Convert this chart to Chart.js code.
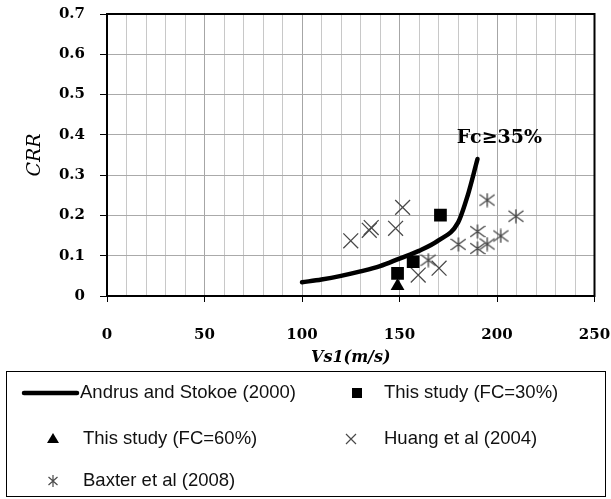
<!DOCTYPE html>
<html><head><meta charset="utf-8">
<script src="https://cdn.jsdelivr.net/npm/chart.js@4/dist/chart.umd.min.js"></script>
<style>html,body{margin:0;padding:0;background:#fff;}#wrap{position:relative;width:611px;height:499px;}</style>
</head><body><div id="wrap"><canvas id="c" width="611" height="499"></canvas></div>
<script>
// ---- data ----
const curveVs1 = [100, 110, 120, 130, 140, 150, 160, 170, 180, 185, 190];
const curveCRR = [0.034, 0.041, 0.050, 0.061, 0.074, 0.093, 0.112, 0.138, 0.182, 0.25, 0.34];
const fc30Vs1 = [149, 157, 171];
const fc30CRR = [0.056, 0.085, 0.201];
const fc60Vs1 = [149];
const fc60CRR = [0.025];
const huangVs1 = [125, 134.5, 135.5, 148, 151.6, 159.6, 170.3];
const huangCRR = [0.137, 0.163, 0.170, 0.168, 0.220, 0.052, 0.069];
const baxterVs1 = [164.8, 180.2, 190, 190, 195, 201.9, 195, 209.7];
const baxterCRR = [0.089, 0.128, 0.160, 0.118, 0.129, 0.149, 0.238, 0.198];
const xTickLabels = {0: '0', 50: '50', 100: '100', 150: '150', 200: '200', 250: '250'};
const yTickLabels = ['0', '0.1', '0.2', '0.3', '0.4', '0.5', '0.6', '0.7'];
const seriesLabels = ['Andrus and Stokoe (2000)', 'This study (FC=30%)', 'This study (FC=60%)', 'Huang et al (2004)', 'Baxter et al (2008)'];
const xTitle = 'Vs1(m/s)';
const yTitle = 'CRR';
const noteText = 'Fc\u226535%';
const noteVs1 = 179.3;
const noteCRR = 0.38;

const pts = (xs, ys) => xs.map((x, i) => ({x: x, y: ys[i]}));
const markGray = '#4a4a4a';

function makeAsterisk(w, h, lw, color) {
  const c = document.createElement('canvas');
  c.width = w; c.height = h;
  const g = c.getContext('2d');
  g.strokeStyle = color; g.lineWidth = lw;
  g.beginPath();
  g.moveTo(0.5, 2); g.lineTo(w - 0.5, h - 2);
  g.moveTo(w - 0.5, 2); g.lineTo(0.5, h - 2);
  g.moveTo(w / 2, 0.5); g.lineTo(w / 2, h - 0.5);
  g.stroke();
  return c;
}
const asteriskImg = makeAsterisk(16, 15, 1.4, markGray);

const serif = 'DejaVu Serif';

const boxPlugin = {
  id: 'boxPlugin',
  beforeDatasetsDraw(chart) {
    const a = chart.chartArea, ctx = chart.ctx;
    ctx.save();
    ctx.strokeStyle = '#000'; ctx.lineWidth = 2;
    ctx.strokeRect(a.left, a.top, a.right - a.left, a.bottom - a.top);
    ctx.restore();
  },
  afterDraw(chart) {
    const ctx = chart.ctx;
    const xs = chart.scales.x, ys = chart.scales.y;
    ctx.save();
    // annotation
    ctx.font = 'bold 19px "' + serif + '"';
    ctx.fillStyle = '#000';
    ctx.textBaseline = 'alphabetic';
    ctx.textAlign = 'left';
    ctx.fillText(noteText, xs.getPixelForValue(noteVs1), ys.getPixelForValue(noteCRR));
    // legend box
    ctx.strokeStyle = '#000'; ctx.lineWidth = 1;
    ctx.strokeRect(6.5, 371.5, 599, 125);
    ctx.font = '18.5px "Liberation Sans"';
    ctx.fillStyle = '#111';
    ctx.textBaseline = 'middle';
    const r1 = 393, r2 = 439, r3 = 481;
    // line sample
    ctx.beginPath(); ctx.lineWidth = 4.5; ctx.lineCap = 'round'; ctx.strokeStyle = '#000';
    ctx.moveTo(24, r1); ctx.lineTo(77, r1); ctx.stroke();
    ctx.fillText(seriesLabels[0], 80, r1);
    // square
    ctx.fillStyle = '#000';
    ctx.fillRect(352, r1 - 5, 10, 10);
    ctx.fillStyle = '#111';
    ctx.fillText(seriesLabels[1], 384, r1);
    // triangle
    ctx.fillStyle = '#000';
    ctx.beginPath(); ctx.moveTo(53, r2 - 6); ctx.lineTo(59, r2 + 4); ctx.lineTo(47, r2 + 4); ctx.closePath(); ctx.fill();
    ctx.fillStyle = '#111';
    ctx.fillText(seriesLabels[2], 83, r2);
    // cross
    ctx.strokeStyle = markGray; ctx.lineWidth = 1.2; ctx.lineCap = 'butt';
    ctx.beginPath(); ctx.moveTo(346, r2 - 5); ctx.lineTo(356, r2 + 5); ctx.moveTo(356, r2 - 5); ctx.lineTo(346, r2 + 5); ctx.stroke();
    ctx.fillText(seriesLabels[3], 384, r2);
    // asterisk
    ctx.beginPath(); ctx.moveTo(48.5, r3 - 4); ctx.lineTo(57.5, r3 + 4); ctx.moveTo(57.5, r3 - 4); ctx.lineTo(48.5, r3 + 4);
    ctx.moveTo(53, r3 - 6); ctx.lineTo(53, r3 + 6); ctx.stroke();
    ctx.fillText(seriesLabels[4], 83, r3);
    ctx.restore();
  }
};

new Chart(document.getElementById('c'), {
  type: 'scatter',
  data: {
    datasets: [
      {label: seriesLabels[0], data: pts(curveVs1, curveCRR), showLine: true, borderColor: '#000', borderWidth: 4.5,
       borderCapStyle: 'round', pointRadius: 0, cubicInterpolationMode: 'monotone', fill: false},
      {label: seriesLabels[1], data: pts(fc30Vs1, fc30CRR), pointStyle: 'rect', pointRadius: 9, backgroundColor: '#000', borderColor: '#000', borderWidth: 0},
      {label: seriesLabels[2], data: pts(fc60Vs1, fc60CRR), pointStyle: 'triangle', pointRadius: 8, backgroundColor: '#000', borderColor: '#000', borderWidth: 0},
      {label: seriesLabels[3], data: pts(huangVs1, huangCRR), pointStyle: 'crossRot', pointRadius: 10.5, borderColor: markGray, borderWidth: 1.3},
      {label: seriesLabels[4], data: pts(baxterVs1, baxterCRR), pointStyle: asteriskImg, pointRadius: 8}
    ]
  },
  options: {
    responsive: false,
    devicePixelRatio: 1,
    animation: false,
    events: [],
    layout: {padding: {left: 0, top: 14, right: 16.5, bottom: 130}},
    plugins: {legend: {display: false}, tooltip: {enabled: false}},
    scales: {
      x: {
        type: 'linear', min: 0, max: 250,
        afterFit: s => { s.height = 73; s.paddingLeft = 0; s.paddingRight = 0; },
        ticks: {stepSize: 10, autoSkip: false, maxRotation: 0, padding: 24, color: '#000',
          font: {family: serif, size: 15, weight: 'bold'},
          callback: v => (xTickLabels[v] !== undefined ? xTickLabels[v] : '')},
        grid: {color: c => (c.tick && c.tick.value % 50 === 0 ? '#a6a6a6' : '#c8c8c8'), lineWidth: 1, tickLength: 6,
          tickColor: c => (c.tick && c.tick.value % 50 === 0 ? '#000' : 'rgba(0,0,0,0)')},
        border: {display: true, color: '#000', width: 2},
        title: {display: true, text: xTitle, color: '#000', font: {family: serif, size: 16, weight: 'bold', style: 'italic'}, padding: {top: 0, bottom: 2}}
      },
      y: {
        type: 'linear', min: 0, max: 0.7,
        afterFit: s => { s.width = 107; s.paddingTop = 0; s.paddingBottom = 0; },
        ticks: {stepSize: 0.1, padding: 15, color: '#000', font: {family: serif, size: 15, weight: 'bold'},
          callback: (v, i) => yTickLabels[i]},
        grid: {color: '#aaaaaa', lineWidth: 1, tickLength: 7, tickColor: '#000'},
        border: {display: true, color: '#000', width: 2},
        title: {display: true, text: yTitle, color: '#000', font: {family: serif, size: 19, style: 'italic'}, padding: {top: 24, bottom: 0}}
      }
    }
  },
  plugins: [boxPlugin]
});
</script>
</body></html>
